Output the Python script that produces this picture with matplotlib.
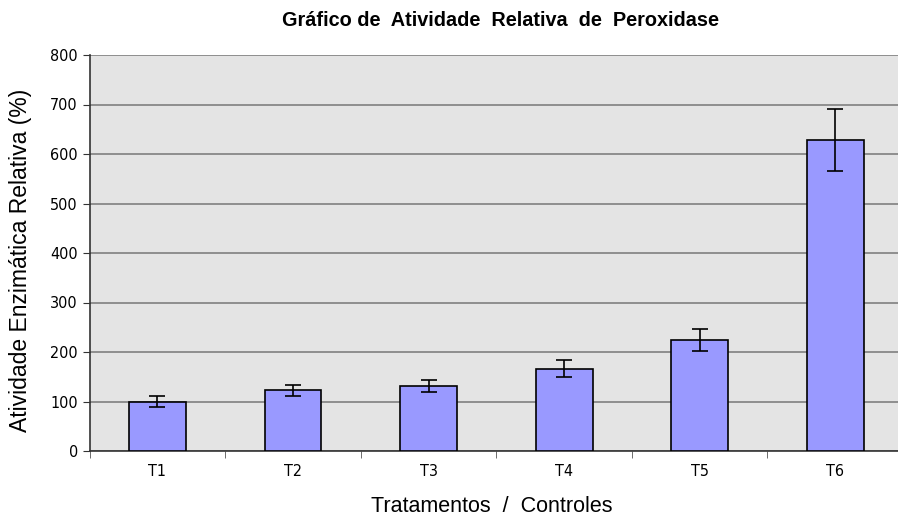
import numpy as np
import matplotlib
matplotlib.use('Agg')
import matplotlib.pyplot as plt

plt.rcParams['font.family'] = ['DejaVu Sans']

# Data
categories = ['T1', 'T2', 'T3', 'T4', 'T5', 'T6']
values = [100, 123, 131, 166, 224, 628]
errors = [11, 11, 12, 17, 22, 62]

fig = plt.figure(figsize=(8.98, 5.17), dpi=100)
ax = fig.add_axes([89.7/898, 66/517, (903-89.7)/898, 396/517])

x = np.arange(len(categories))
ax.set_facecolor('#e4e4e4')
ax.bar(x, values, width=0.42, color='#9999ff', edgecolor='black', linewidth=1.2,
       yerr=errors, capsize=6, error_kw=dict(ecolor='black', elinewidth=1.2, capthick=1.2),
       zorder=3)

ax.set_ylim(0, 800)
ax.set_yticks(np.arange(0, 801, 100))
ax.set_xlim(-0.5, len(categories) - 0.5)
ax.set_xticks(x)
ax.set_xticklabels(categories)
ax.set_xticks(np.arange(-0.5, len(categories), 1), minor=True)
ax.tick_params(axis='x', which='major', length=0, pad=9)
ax.tick_params(axis='x', which='minor', length=5, color='#555555')
ax.tick_params(axis='y', length=5, color='#333333')
for lab in ax.get_xticklabels() + ax.get_yticklabels():
    lab.set_fontsize(11.5)
    lab.set_fontstretch('condensed')

ax.grid(axis='y', color='#808080', linewidth=1.2, zorder=1)
ax.set_axisbelow(True)
for s in ['top', 'right']:
    ax.spines[s].set_visible(False)
ax.spines['left'].set_color('#333333')
ax.spines['bottom'].set_color('#333333')
ax.spines['left'].set_linewidth(1.2)
ax.spines['bottom'].set_linewidth(1.2)

fig.text(0.557, 0.961, 'Gráfico de  Atividade  Relativa  de  Peroxidase', ha='center', va='center',
         fontsize=14.3, fontweight='bold', family=['Liberation Sans', 'DejaVu Sans'])
fig.text(0.548, 0.021, 'Tratamentos  /  Controles', ha='center', va='center', fontsize=15.5,
         family=['Liberation Sans', 'DejaVu Sans'])
fig.text(0.023, 0.497, 'Atividade Enzimática Relativa (%)', ha='center', va='center',
         rotation=90, fontsize=16.5, family=['Liberation Sans', 'DejaVu Sans'])

fig.savefig('out.png', dpi=100)
